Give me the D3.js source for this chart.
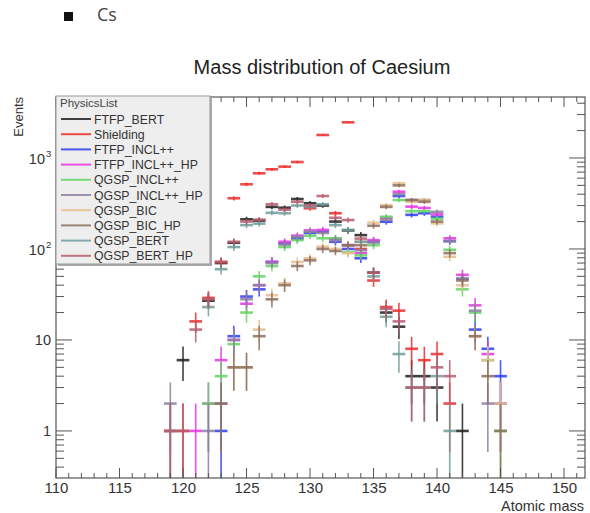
<!DOCTYPE html>
<html><head><meta charset="utf-8">
<script src="https://cdn.jsdelivr.net/npm/d3@7"></script>
<style>body{margin:0;background:#fff;} svg{display:block;font-family:"Liberation Sans",Arial,Helvetica,sans-serif;}</style>
</head><body><svg id="c" width="590" height="513"></svg>
<script>
// ---- data ----
const masses = [119,120,121,122,123,124,125,126,127,128,129,130,131,132,133,134,135,136,137,138,139,140,141,142,143,144,145];
const seriesNames = ["FTFP_BERT","Shielding","FTFP_INCL++","FTFP_INCL++_HP","QGSP_INCL++","QGSP_INCL++_HP","QGSP_BIC","QGSP_BIC_HP","QGSP_BERT","QGSP_BERT_HP"];
const seriesColors = ["#1e1e1e","#ee2a2a","#2b3df2","#e634e6","#62d462","#8d80a0","#e6bd8e","#8c6e5e","#6f9c9a","#b55c6e"];
const FTFP_BERT      = [0,6,0,27,70,117,212,205,290,284,354,318,300,200,160,142,55,20,14,4,4,3,0,1,0,0,0];
const Shielding      = [1,1,16,29,72,361,514,679,751,803,903,280,1790,247,2466,100,45,23,21,8,6,7,2,0,0,0,0];
const FTFP_INCL      = [0,0,0,0,1,11,30,36,72,115,130,150,155,120,100,79,120,199,382,237,247,226,122,47,13,8,4];
const FTFP_INCL_HP   = [0,0,1,2,6,10,25,40,72,120,140,160,162,130,110,90,125,220,426,292,282,240,131,52,24,7,2];
const QGSP_INCL      = [0,0,0,2,4,9,20,50,65,105,125,140,131,131,92,85,110,226,345,260,260,215,98,36,20,6,1];
const QGSP_INCL_HP   = [2,0,0,1,2,10,28,40,70,112,136,155,150,125,110,97,118,210,400,345,345,256,122,47,21,2,2];
const QGSP_BIC       = [0,0,0,0,0,5,5,13,31,42,72,79,106,100,90,120,195,303,527,330,345,191,82,40,11,6,2];
const QGSP_BIC_HP    = [0,0,0,0,2,5,5,11,28,40,65,75,100,95,110,110,180,290,500,345,330,200,90,45,11,4,1];
const QGSP_BERT      = [1,0,0,23,60,105,183,190,250,247,300,290,310,183,162,120,50,18,7,3,3,4,1,0,0,0,0];
const QGSP_BERT_HP   = [1,1,13,28,72,120,200,210,310,270,330,300,382,220,208,130,55,22,16,3,3,5,4,0,0,0,0];
const seriesValues = [FTFP_BERT,Shielding,FTFP_INCL,FTFP_INCL_HP,QGSP_INCL,QGSP_INCL_HP,QGSP_BIC,QGSP_BIC_HP,QGSP_BERT,QGSP_BERT_HP];
const xTickLabels = [110,115,120,125,130,135,140,145,150];
const yTickLabels = [1,10,100,1000];

// ---- layout ----
const L = 56, R = 585, T = 97, B = 478;
const svg = d3.select("#c");
const x = d3.scaleLinear().domain([110, 151.65]).range([L, R]);
const y = d3.scaleLog().domain([0.304, 4680]).range([B, T]);

// title texts
svg.append("rect").attr("x",64).attr("y",12).attr("width",9).attr("height",9).attr("fill","#111");
svg.append("text").attr("x",97).attr("y",21).attr("font-size",18).attr("fill","#444")
  .attr("font-family","'Open Sans',sans-serif").text("Cs");
svg.append("text").attr("x",322).attr("y",74).attr("text-anchor","middle").attr("font-size",20).attr("fill","#222").text("Mass distribution of Caesium");

// data
const clipId = "plotclip";
svg.append("clipPath").attr("id",clipId).append("rect").attr("x",L).attr("y",T).attr("width",R-L).attr("height",B-T);
const dataG = svg.append("g").attr("clip-path",`url(#${clipId})`);
seriesValues.forEach((vals,si)=>{
  const g = dataG.append("g").attr("stroke",seriesColors[si]).attr("stroke-opacity",0.85);
  const pts = masses.map((m,i)=>({m, v: vals[i]})).filter(d=>d.v>0);
  g.selectAll("line.v").data(pts).join("line").attr("class","v")
    .attr("x1",d=>x(d.m)).attr("x2",d=>x(d.m))
    .attr("y1",d=>{const lo=d.v-Math.sqrt(d.v); return lo>0? y(lo): B+2;})
    .attr("y2",d=>y(d.v+Math.sqrt(d.v)))
    .attr("stroke-width",1.6);
  g.selectAll("line.h").data(pts).join("line").attr("class","h")
    .attr("x1",d=>x(d.m-0.5)).attr("x2",d=>x(d.m+0.5))
    .attr("y1",d=>y(d.v)).attr("y2",d=>y(d.v))
    .attr("stroke-width",2.6);
});

// frame
const axCol = "#555";
svg.append("rect").attr("x",L).attr("y",T).attr("width",R-L).attr("height",B-T).attr("fill","none").attr("stroke",axCol).attr("stroke-width",1.2);

// x axis ticks (bottom inward and top inward)
const xMinor = d3.range(110,152,1);
const xMajor = xTickLabels;
const bottomAxis = d3.axisBottom(x).tickValues(xMajor).tickSize(0).tickPadding(4).tickFormat(d3.format("d"));
const gx = svg.append("g").attr("transform",`translate(0,${B})`).call(bottomAxis);
gx.select(".domain").remove();
gx.selectAll("text").attr("font-size",15).attr("fill","#333").attr("font-family","'Liberation Sans',Arial,sans-serif");
const tickG = svg.append("g").attr("stroke",axCol).attr("stroke-width",1);
xMinor.forEach(v=>{
  const big = v%5===0; const len = big?10:5;
  tickG.append("line").attr("x1",x(v)).attr("x2",x(v)).attr("y1",B).attr("y2",B-len);
  tickG.append("line").attr("x1",x(v)).attr("x2",x(v)).attr("y1",T).attr("y2",T+len);
});
// y ticks (log minor)
const yMinor = [];
[0.1,1,10,100,1000].forEach(d=>{for(let k=1;k<10;k++){const v=d*k; if(v>=0.304 && v<=4680) yMinor.push(v);}});
yMinor.forEach(v=>{
  const big = yTickLabels.includes(v); const len = big?16:8;
  tickG.append("line").attr("x1",L).attr("x2",L+len).attr("y1",y(v)).attr("y2",y(v));
  tickG.append("line").attr("x1",R).attr("x2",R-len).attr("y1",y(v)).attr("y2",y(v));
});
// y labels
const yl = svg.append("g").attr("fill","#333").attr("font-size",14.5);
yTickLabels.forEach(v=>{
  if (v<100){
    yl.append("text").attr("x",51).attr("y",y(v)+5).attr("text-anchor","end").text(String(v));
  } else {
    const e = Math.round(Math.log10(v));
    yl.append("text").attr("x",45).attr("y",y(v)+6).attr("text-anchor","end").text("10");
    yl.append("text").attr("x",46).attr("y",y(v)-1).attr("font-size",9.5).text(String(e));
  }
});
// axis titles
svg.append("text").attr("transform","translate(23,97) rotate(-90)").attr("text-anchor","end").attr("font-size",13).attr("fill","#333").text("Events");
svg.append("text").attr("x",584).attr("y",511).attr("text-anchor","end").attr("font-size",14.5).attr("fill","#333").text("Atomic mass");

// legend
const lg = svg.append("g");
const lx=56, ly=96, lw=154, lh=168;
lg.append("rect").attr("x",lx+2).attr("y",ly+2).attr("width",lw).attr("height",lh).attr("fill","#aaa");
lg.append("rect").attr("x",lx).attr("y",ly).attr("width",lw).attr("height",lh).attr("fill","#eeeeee").attr("stroke","#999").attr("stroke-width",1);
lg.append("text").attr("x",60).attr("y",107).attr("font-size",11.5).attr("fill","#444").text("PhysicsList");
seriesNames.forEach((n,i)=>{
  const yy = 119 + i*15.2;
  lg.append("line").attr("x1",61).attr("x2",91).attr("y1",yy).attr("y2",yy).attr("stroke",seriesColors[i]).attr("stroke-width",2).attr("stroke-opacity",0.85);
  lg.append("text").attr("x",94).attr("y",yy+4.5).attr("font-size",12.3).attr("fill","#333").text(n);
});
</script></body></html>
